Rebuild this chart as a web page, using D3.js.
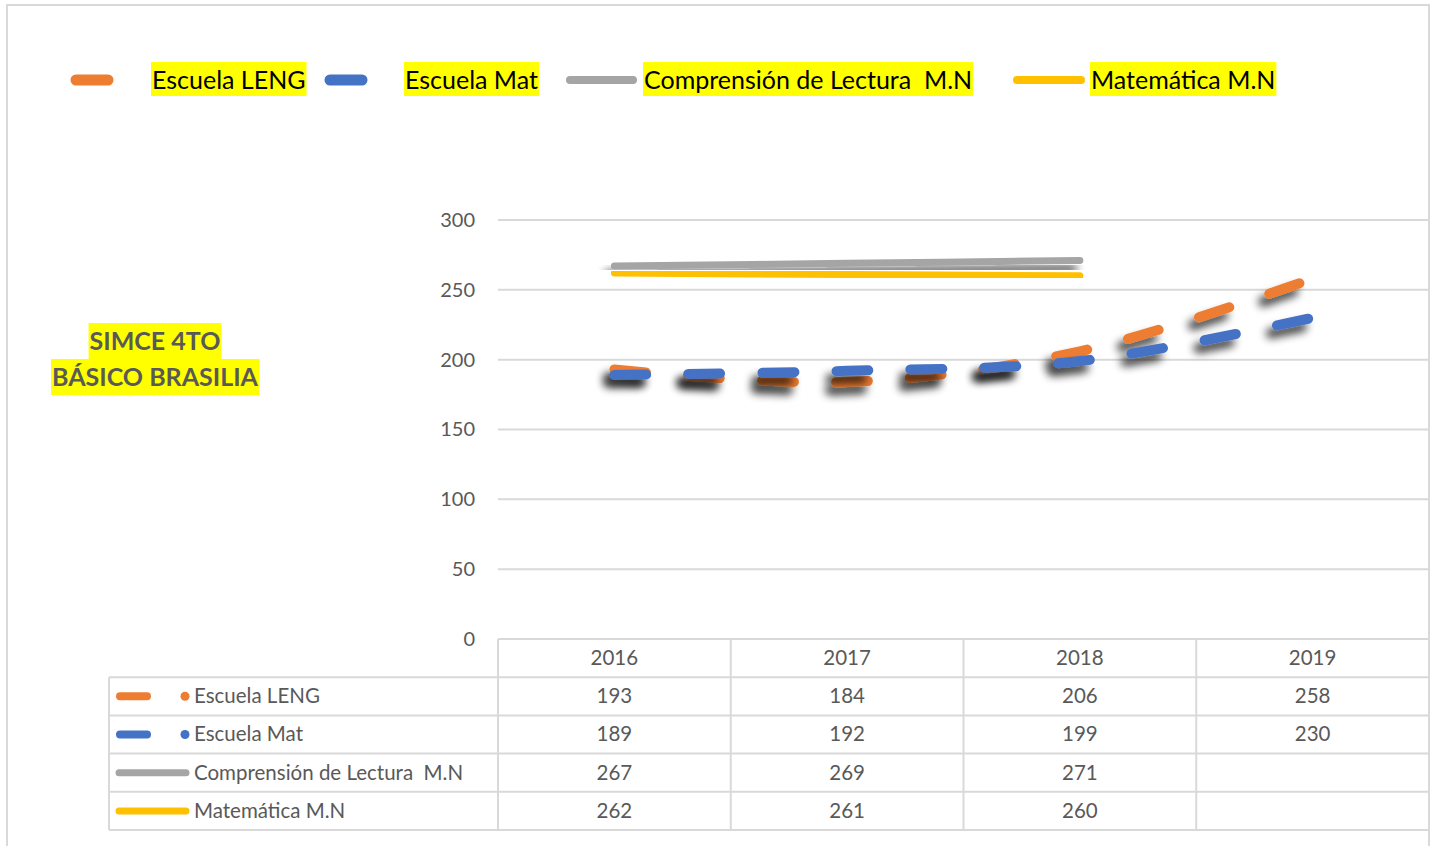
<!DOCTYPE html>
<html>
<head>
<meta charset="utf-8">
<script src="https://cdn.jsdelivr.net/npm/d3@7"></script>
<style>
  body { margin: 0; background: #fff; }
  text { font-family: Lato, "Noto Sans", sans-serif; white-space: pre; }
</style>
</head>
<body>
<div id="chart"></div>
<script>
// chart data
var years = ["2016", "2017", "2018", "2019"];
var seriesNames = ["Escuela LENG", "Escuela Mat", "Comprensión de Lectura  M.N", "Matemática M.N"];
var escuelaLeng = [193, 184, 206, 258];
var escuelaMat = [189, 192, 199, 230];
var lecturaMN = [267, 269, 271, null];
var matematicaMN = [262, 261, 260, null];
var yTicks = [0, 50, 100, 150, 200, 250, 300];
var titleLines = ["SIMCE 4TO", "BÁSICO BRASILIA"];

var seriesValues = [escuelaLeng, escuelaMat, lecturaMN, matematicaMN];
var colors = ["#ed7d31", "#4472c4", "#a5a5a5", "#ffc000"];
var dashed = [true, true, false, false];

var svgWidth = 1437, svgHeight = 846;
var plot = {left: 498, right: 1429, top: 220, bottom: 639};
var rowH = 38.2;
var tableLeft = 109;

var svg = d3.select("#chart").append("svg")
    .attr("width", svgWidth)
    .attr("height", svgHeight);

// shadow filter
var filter = svg.append("defs").append("filter")
    .attr("id", "shadow")
    .attr("x", "-20%").attr("y", "-60%")
    .attr("width", "140%").attr("height", "220%");
filter.append("feGaussianBlur").attr("in", "SourceAlpha").attr("stdDeviation", 4).attr("result", "blur");
filter.append("feOffset").attr("in", "blur").attr("dx", -6).attr("dy", 8).attr("result", "off");
var ct = filter.append("feComponentTransfer").attr("in", "off").attr("result", "sh");
ct.append("feFuncA").attr("type", "linear").attr("slope", 0.75);
var merge = filter.append("feMerge");
merge.append("feMergeNode").attr("in", "sh");
merge.append("feMergeNode").attr("in", "SourceGraphic");

// outer border
svg.append("rect")
    .attr("x", 7).attr("y", 5)
    .attr("width", 1422).attr("height", 860)
    .attr("fill", "none")
    .attr("stroke", "#d9d9d9")
    .attr("stroke-width", 2);

// scales
var xBand = d3.scaleBand()
    .domain(years)
    .range([plot.left, plot.right])
    .padding(0);
var xCenter = d => xBand(d) + xBand.bandwidth() / 2;

var yScale = d3.scaleLinear()
    .domain([0, 300])
    .range([plot.bottom, plot.top]);

// gridlines
svg.append("g").selectAll("line")
    .data(yTicks.filter(t => t > 0))
    .enter().append("line")
    .attr("x1", plot.left).attr("x2", plot.right - 1)
    .attr("y1", d => yScale(d)).attr("y2", d => yScale(d))
    .attr("stroke", "#d9d9d9")
    .attr("stroke-width", 2);

// y axis labels
var yAxis = d3.axisLeft(yScale).tickValues(yTicks).tickSize(0).tickPadding(0);
var yAxisG = svg.append("g")
    .attr("transform", "translate(475,0)")
    .call(yAxis);
yAxisG.select(".domain").remove();
yAxisG.selectAll("text")
    .attr("font-family", "Lato, 'Noto Sans', sans-serif")
    .attr("font-size", 20)
    .attr("fill", "#595959");

// lines
var line = d3.line()
    .defined(d => d.v != null)
    .x(d => xCenter(d.year))
    .y(d => yScale(d.v))
    .curve(d3.curveCatmullRom.alpha(0.5));

seriesValues.forEach(function(vals, i) {
    var pts = years.map((y, j) => ({year: y, v: vals[j]}));
    svg.append("path")
        .datum(pts)
        .attr("d", line)
        .attr("fill", "none")
        .attr("stroke", colors[i])
        .attr("stroke-width", dashed[i] ? 10 : 7)
        .attr("stroke-linecap", "round")
        .attr("stroke-dasharray", dashed[i] ? "32,42" : null)
        .attr("filter", "url(#shadow)");
});

// data table
var tbl = svg.append("g");
var tableStroke = "#d9d9d9";

// horizontal lines
tbl.append("line")
    .attr("x1", plot.left).attr("x2", plot.right)
    .attr("y1", plot.bottom).attr("y2", plot.bottom)
    .attr("stroke", tableStroke).attr("stroke-width", 2);
d3.range(1, 6).forEach(function(r) {
    tbl.append("line")
        .attr("x1", tableLeft).attr("x2", plot.right)
        .attr("y1", plot.bottom + r * rowH).attr("y2", plot.bottom + r * rowH)
        .attr("stroke", tableStroke).attr("stroke-width", 2);
});
// vertical lines
tbl.append("line")
    .attr("x1", tableLeft).attr("x2", tableLeft)
    .attr("y1", plot.bottom + rowH).attr("y2", plot.bottom + 5 * rowH)
    .attr("stroke", tableStroke).attr("stroke-width", 2);
years.concat(["end"]).forEach(function(y) {
    var x = y === "end" ? plot.right : xBand(y);
    tbl.append("line")
        .attr("x1", x).attr("x2", x)
        .attr("y1", plot.bottom).attr("y2", plot.bottom + 5 * rowH)
        .attr("stroke", tableStroke).attr("stroke-width", 2);
});

// header years
tbl.selectAll(".yearText")
    .data(years)
    .enter().append("text")
    .attr("x", d => xCenter(d))
    .attr("y", plot.bottom + rowH / 2)
    .attr("dy", "0.34em")
    .attr("text-anchor", "middle")
    .attr("font-size", 20.5)
    .attr("fill", "#595959")
    .text(d => d);

// rows
seriesValues.forEach(function(vals, i) {
    var cy = plot.bottom + (i + 1.5) * rowH;
    tbl.selectAll(".val" + i)
        .data(years.map((y, j) => ({year: y, v: vals[j]})).filter(d => d.v != null))
        .enter().append("text")
        .attr("x", d => xCenter(d.year))
        .attr("y", cy)
        .attr("dy", "0.34em")
        .attr("text-anchor", "middle")
        .attr("font-size", 20.5)
        .attr("fill", "#595959")
        .text(d => d.v);

    if (dashed[i]) {
        tbl.append("line")
            .attr("x1", 120).attr("x2", 147)
            .attr("y1", cy).attr("y2", cy)
            .attr("stroke", colors[i]).attr("stroke-width", 8)
            .attr("stroke-linecap", "round");
        tbl.append("circle")
            .attr("cx", 185).attr("cy", cy).attr("r", 4.5)
            .attr("fill", colors[i]);
    } else {
        tbl.append("line")
            .attr("x1", 119).attr("x2", 186)
            .attr("y1", cy).attr("y2", cy)
            .attr("stroke", colors[i]).attr("stroke-width", 7)
            .attr("stroke-linecap", "round");
    }
    tbl.append("text")
        .attr("x", 194)
        .attr("y", cy)
        .attr("dy", "0.34em")
        .attr("font-size", 20.5)
        .attr("fill", "#595959")
        .text(seriesNames[i]);
});

// top legend
var legendItems = [
    {sx1: 76, sx2: 108, tx: 151},
    {sx1: 330, sx2: 362, tx: 404},
    {sx1: 570, sx2: 633, tx: 643},
    {sx1: 1017, sx2: 1081, tx: 1090}
];
var legend = svg.append("g");
legendItems.forEach(function(it, i) {
    legend.append("line")
        .attr("x1", it.sx1).attr("x2", it.sx2)
        .attr("y1", 80).attr("y2", 80)
        .attr("stroke", colors[i])
        .attr("stroke-width", dashed[i] ? 11 : 8)
        .attr("stroke-linecap", "round");
    var bg = legend.append("rect").attr("fill", "#ffff00");
    var t = legend.append("text")
        .attr("x", it.tx + 1)
        .attr("y", 80)
        .attr("dy", "0.36em")
        .attr("font-size", 25)
        .attr("fill", "#000")
        .text(seriesNames[i]);
    var bb = t.node().getBBox();
    bg.attr("x", it.tx).attr("y", 62)
        .attr("width", bb.width + 2).attr("height", 34);
});

// title
var titleG = svg.append("g");
titleLines.forEach(function(s, i) {
    var cy = 341 + i * 36;
    var bg = titleG.append("rect").attr("fill", "#ffff00");
    var t = titleG.append("text")
        .attr("x", 155)
        .attr("y", cy)
        .attr("dy", "0.36em")
        .attr("text-anchor", "middle")
        .attr("font-size", 25)
        .attr("font-weight", "bold")
        .attr("fill", "#595959")
        .text(s);
    var bb = t.node().getBBox();
    bg.attr("x", bb.x - 1).attr("y", cy - 18)
        .attr("width", bb.width + 2).attr("height", 36);
});
</script>
</body>
</html>
